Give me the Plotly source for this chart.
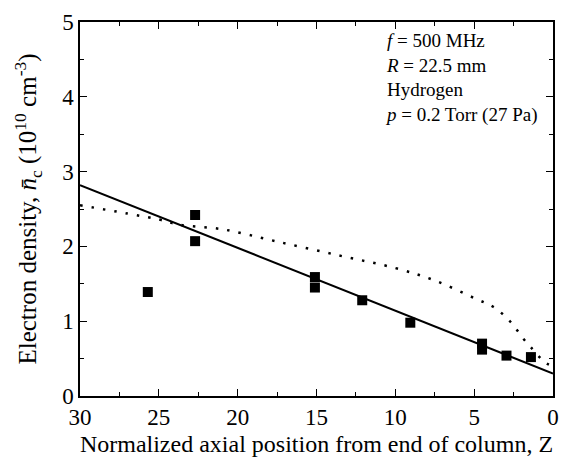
import plotly.graph_objects as go

# measured points
z_meas = [25.7, 22.7, 22.7, 15.1, 15.1, 12.1, 9.05, 4.5, 4.5, 2.95, 1.4]
n_meas = [1.39, 2.42, 2.07, 1.59, 1.45, 1.28, 0.98, 0.70, 0.62, 0.54, 0.52]

# linear fit (solid line)
z_fit = [30, 0]
n_fit = [2.82, 0.30]

# theory (dotted line)
z_th = [30, 27, 25, 23.7, 21, 17.6, 13.6, 10, 7.45, 4.9, 3.7, 2.65, 1.9, 1.4, 0.45, 0]
n_th = [2.55, 2.44, 2.36, 2.29, 2.23, 2.07, 1.88, 1.71, 1.54, 1.30, 1.18, 0.98, 0.77, 0.65, 0.44, 0.40]

x_ticks = [30, 25, 20, 15, 10, 5, 0]
y_ticks = [0, 1, 2, 3, 4, 5]

font = "Liberation Serif, Times New Roman, serif"

fig = go.Figure()
fig.add_trace(go.Scatter(x=z_th, y=n_th, mode="lines",
                         line=dict(color="black", width=2.5, dash="2.5px,9px"),
                         line_shape="spline", showlegend=False))
fig.add_trace(go.Scatter(x=z_fit, y=n_fit, mode="lines",
                         line=dict(color="black", width=2), showlegend=False))
fig.add_trace(go.Scatter(x=z_meas, y=n_meas, mode="markers",
                         marker=dict(symbol="square", size=10, color="black"),
                         showlegend=False))

axis_common = dict(showline=True, linecolor="black", linewidth=1.5, mirror="allticks",
                   ticks="inside", ticklen=7, tickwidth=1.2, tickcolor="black",
                   showgrid=False, zeroline=False,
                   tickfont=dict(family=font, size=23, color="black"))

fig.update_xaxes(range=[30, 0], tickvals=x_ticks, ticktext=[str(v) for v in x_ticks],
                 minor=dict(dtick=2.5, ticks="inside", ticklen=4, tickcolor="black", tickwidth=1.2),
                 title=dict(text="Normalized axial position from end of column, Z",
                            font=dict(family=font, size=24, color="black"), standoff=6),
                 **axis_common)
fig.update_yaxes(range=[0, 5], tickvals=y_ticks, ticktext=[str(v) for v in y_ticks],
                 minor=dict(dtick=0.5, ticks="inside", ticklen=4, tickcolor="black", tickwidth=1.2),
                 title=dict(text="Electron density, <i>n\u0304</i><sub>c</sub> (10<sup>10</sup> cm<sup>-3</sup>)",
                            font=dict(family=font, size=25, color="black"), standoff=18),
                 **axis_common)

fig.add_annotation(xref="paper", yref="paper", x=0.64, y=0.985, xanchor="left", yanchor="top",
                   align="left", showarrow=False,
                   text="<i>f</i> = 500 MHz<br><i>R</i> = 22.5 mm<br>Hydrogen<br><i>p</i> = 0.2 Torr (27 Pa)",
                   font=dict(family=font, size=19, color="black"))

fig.update_layout(width=569, height=467, margin=dict(l=80, r=13, t=10, b=71),
                  plot_bgcolor="white", paper_bgcolor="white")

fig.write_html("out.html")
